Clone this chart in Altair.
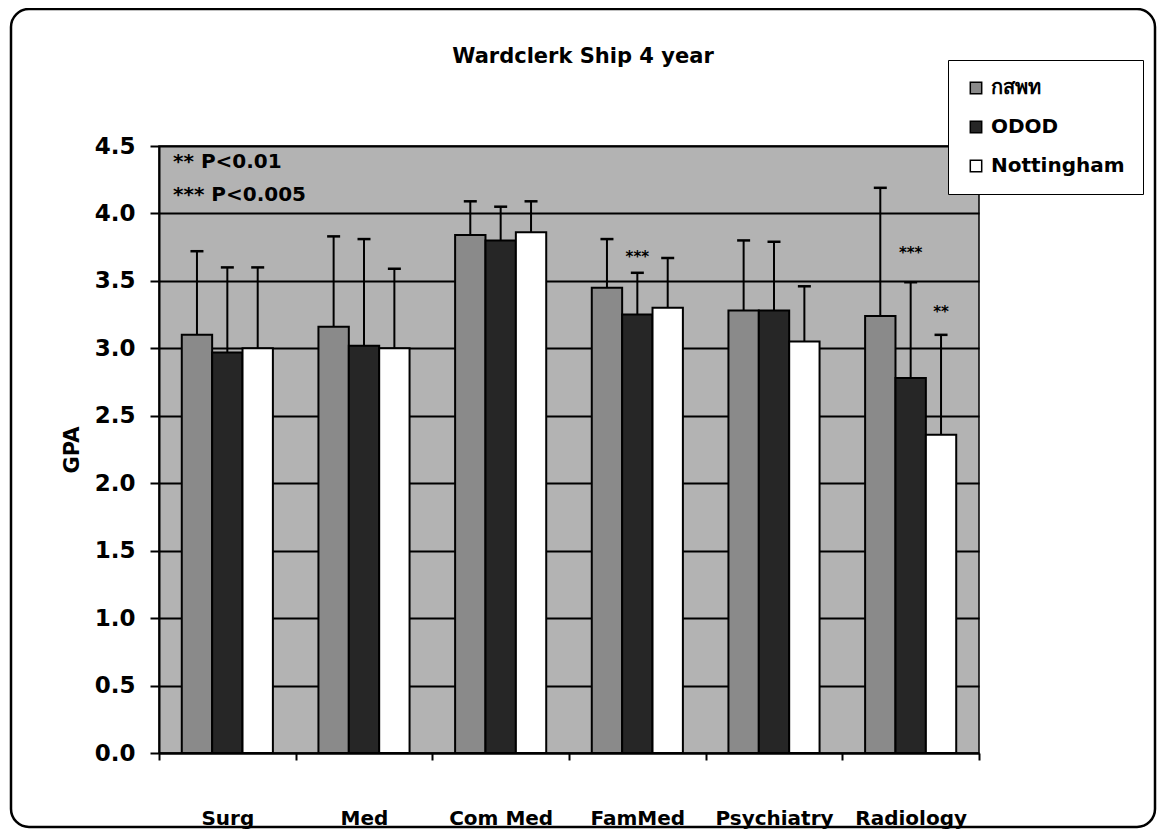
import altair as alt
import pandas as pd

categories = ["Surg", "Med", "Com Med", "FamMed", "Psychiatry", "Radiology"]
series = ["กสพท", "ODOD", "Nottingham"]
series_colors = ["#8a8a8a", "#262626", "#ffffff"]

gpa_ksp = [3.10, 3.16, 3.84, 3.45, 3.28, 3.24]
gpa_odod = [2.97, 3.02, 3.80, 3.25, 3.28, 2.78]
gpa_nott = [3.00, 3.00, 3.86, 3.30, 3.05, 2.36]

upper_ksp = [3.72, 3.83, 4.09, 3.81, 3.80, 4.19]
upper_odod = [3.60, 3.81, 4.05, 3.56, 3.79, 3.49]
upper_nott = [3.60, 3.59, 4.09, 3.67, 3.46, 3.10]

sig_cat = ["FamMed", "Radiology", "Radiology"]
sig_series = ["ODOD", "ODOD", "Nottingham"]
sig_text = ["***", "***", "**"]
sig_y = [3.68, 3.71, 3.27]

notes = ["** P<0.01", "*** P<0.005"]
notes_y = [4.38, 4.14]

title_text = "Wardclerk Ship 4 year"
FONT = "DejaVu Sans"

df = pd.DataFrame({
    "category": categories * 3,
    "series": [s for s in series for _ in categories],
    "gpa": gpa_ksp + gpa_odod + gpa_nott,
    "upper": upper_ksp + upper_odod + upper_nott,
})
df_sig = pd.DataFrame({"category": sig_cat, "series": sig_series, "label": sig_text, "ypos": sig_y})
df_notes = pd.DataFrame({"note": notes, "ypos": notes_y})
df_title = pd.DataFrame({"t": [title_text]})
df_frame = pd.DataFrame({"a": [0]})

x_enc = alt.X(
    "category:N", sort=categories,
    scale=alt.Scale(paddingInner=0, paddingOuter=0),
    axis=alt.Axis(title=None, labelAngle=0, tickBand="extent", labelFont=FONT,
                  labelFontSize=20, labelFontWeight="bold", labelColor="black",
                  labelPadding=48, tickSize=7, tickWidth=2, tickColor="black",
                  domainColor="black", domainWidth=2, grid=False),
)
xo_enc = alt.XOffset("series:N", sort=series, scale=alt.Scale(paddingInner=0, paddingOuter=0.75))
y_scale = alt.Scale(domain=[0, 4.5], nice=False)
y_axis = alt.Axis(title="GPA", values=[0, 0.5, 1, 1.5, 2, 2.5, 3, 3.5, 4, 4.5], format=".1f",
                  labelFont=FONT, labelFontSize=23, labelFontWeight="bold", labelColor="black",
                  labelPadding=15, tickSize=9, tickWidth=2, tickColor="black",
                  domainColor="black", domainWidth=2, grid=True, gridColor="black",
                  gridWidth=1.8, gridOpacity=1, titleFont=FONT, titleFontSize=21,
                  titleFontWeight="bold", titleColor="black", titlePadding=12)

bars = alt.Chart(df).mark_bar(stroke="black", strokeWidth=2).encode(
    x=x_enc, xOffset=xo_enc,
    y=alt.Y("gpa:Q", scale=y_scale, axis=y_axis),
    color=alt.Color("series:N", scale=alt.Scale(domain=series, range=series_colors),
                    legend=alt.Legend(title=None, orient="none", legendX=789, legendY=-86,
                                      symbolType="square", symbolSize=130,
                                      symbolStrokeColor="black", symbolStrokeWidth=1.5,
                                      labelFont=FONT, labelFontSize=20, labelFontWeight="bold",
                                      labelColor="black", labelOffset=5, rowPadding=19,
                                      padding=18, fillColor="white", strokeColor="black")),
)

rules = alt.Chart(df).mark_rule(color="black", strokeWidth=2).encode(
    x=x_enc, xOffset=xo_enc, y=alt.Y("gpa:Q", scale=y_scale, axis=y_axis), y2="upper:Q"
)
caps = alt.Chart(df).mark_tick(color="black", thickness=2.5, size=13, opacity=1).encode(
    x=x_enc, xOffset=xo_enc, y=alt.Y("upper:Q", scale=y_scale, axis=y_axis)
)
sig = alt.Chart(df_sig).mark_text(font=FONT, fontSize=15, fontWeight="bold", color="black",
                                   baseline="middle").encode(
    x=x_enc, xOffset=xo_enc, y=alt.Y("ypos:Q", scale=y_scale, axis=y_axis), text="label:N"
)
note_layer = alt.Chart(df_notes).mark_text(font=FONT, fontSize=20, fontWeight="bold", color="black",
                                           align="left", baseline="middle").encode(
    x=alt.value(14), y=alt.Y("ypos:Q", scale=y_scale, axis=y_axis), text="note:N"
)
title_layer = alt.Chart(df_title).mark_text(font=FONT, fontSize=21, fontWeight="bold", color="black",
                                            align="center", baseline="middle").encode(
    x=alt.value(424), y=alt.value(-89), text="t:N"
)
frame = alt.Chart(df_frame).mark_rect(fillOpacity=0, stroke="black", strokeWidth=2.5,
                                      cornerRadius=18).encode(
    x=alt.value(-148), x2=alt.value(996), y=alt.value(-137), y2=alt.value(681)
)

chart = alt.layer(bars, rules, caps, sig, note_layer, title_layer, frame).properties(
    width=820, height=607,
    autosize=alt.AutoSizeParams(type="none"),
    padding={"left": 151, "top": 138, "right": 178, "bottom": 77},
    background="white",
).configure_view(fill="#b3b3b3", stroke="black", strokeWidth=1.5)

chart.save("out.html", embed_options={"renderer": "svg", "actions": False})
